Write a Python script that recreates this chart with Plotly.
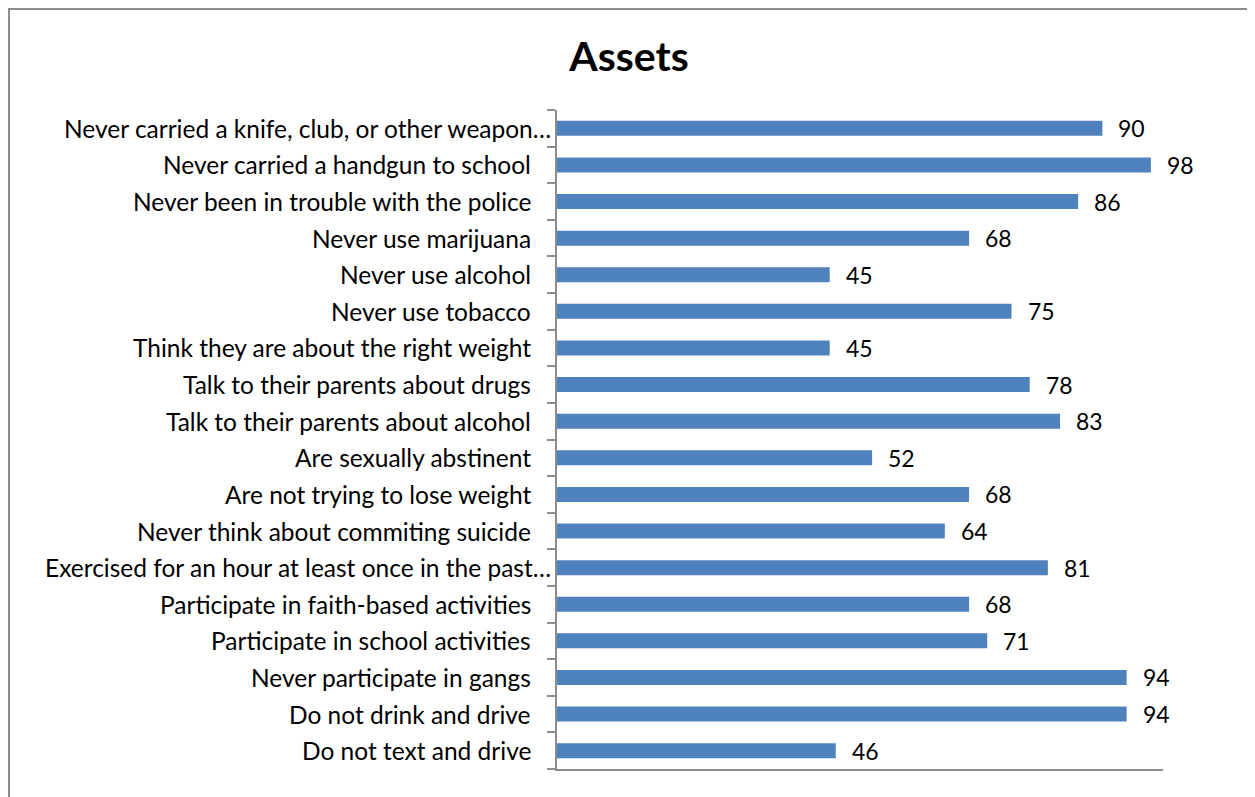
import plotly.graph_objects as go

categories = [
    "Never carried a knife, club, or other weapon…",
    "Never carried a handgun to school",
    "Never been in trouble with the police",
    "Never use marijuana",
    "Never use alcohol",
    "Never use tobacco",
    "Think they are about the right weight",
    "Talk to their parents about drugs",
    "Talk to their parents about alcohol",
    "Are sexually abstinent",
    "Are not trying to lose weight",
    "Never think about commiting suicide",
    "Exercised for an hour at least once in the past…",
    "Participate in faith-based activities",
    "Participate in school activities",
    "Never participate in gangs",
    "Do not drink and drive",
    "Do not text and drive",
]
values = [90, 98, 86, 68, 45, 75, 45, 78, 83, 52, 68, 64, 81, 68, 71, 94, 94, 46]
title = "Assets"

FONT = "Lato"
OFF = 8  # browser body margin
W, H = 1255 - OFF, 797 - OFF
ML, MR, MT, MB = 557 - OFF, 92, 110 - OFF, 28
PW, PH = W - ML - MR, H - MT - MB

fig = go.Figure()
fig.add_trace(go.Bar(
    x=values, y=list(range(len(categories))), orientation="h",
    marker=dict(color="#4F81BD", line=dict(width=0)),
    width=0.41, hoverinfo="x+y",
))

annotations = []
for i, (c, v) in enumerate(zip(categories, values)):
    truncated = c.endswith("…")
    annotations.append(dict(
        x=0, y=i, xref="x", yref="y", text=c, showarrow=False,
        xanchor="right", yanchor="middle",
        xshift=-4 if truncated else -24,
        font=dict(family=FONT, size=24.5, color="#000000"),
    ))
    annotations.append(dict(
        x=v, y=i, xref="x", yref="y", text=str(v), showarrow=False,
        xanchor="left", yanchor="middle", xshift=14,
        font=dict(family=FONT, size=23, color="#000000"),
    ))

def px_x(p):
    return (p - ML) / PW
def px_y(p):
    return (H - MB - p) / PH

shapes = [dict(
    type="rect", xref="paper", yref="paper",
    x0=px_x(1), x1=px_x(1253 - OFF), y0=px_y(H + 10), y1=px_y(1),
    line=dict(color="#8C8C8C", width=2), fillcolor="rgba(0,0,0,0)", layer="below",
)]

fig.update_layout(
    width=W, height=H,
    margin=dict(l=ML, r=MR, t=MT, b=MB, autoexpand=False),
    paper_bgcolor="white", plot_bgcolor="white",
    title=dict(text="<b>" + title + "</b>", x=(629 - OFF) / W, xref="container", xanchor="center",
               y=1 - (57 - OFF) / H, yref="container", yanchor="middle",
               font=dict(family=FONT, size=41, color="#000000")),
    xaxis=dict(range=[0, 100], showgrid=False, zeroline=False, showticklabels=False,
               showline=True, linecolor="#8C8C8C", linewidth=2, ticks=""),
    yaxis=dict(range=[len(categories) - 0.5, -0.5], showgrid=False, zeroline=False,
               showticklabels=False, showline=True, linecolor="#8C8C8C", linewidth=2,
               ticks="outside", ticklen=8, tickcolor="#8C8C8C", tickwidth=2,
               tickmode="array", tickvals=[i - 0.5 for i in range(len(categories) + 1)]),
    annotations=annotations, shapes=shapes,
    showlegend=False,
)

fig.write_html("out.html")
